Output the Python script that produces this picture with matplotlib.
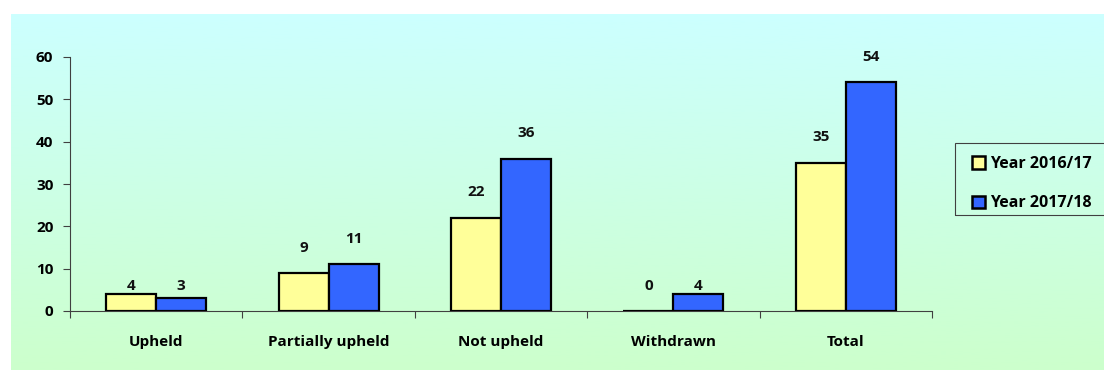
import numpy as np
import matplotlib
matplotlib.use("Agg")
import matplotlib.pyplot as plt
from matplotlib.patches import Patch, Rectangle
from matplotlib.colors import LinearSegmentedColormap

categories = ["Upheld", "Partially upheld", "Not upheld", "Withdrawn", "Total"]
year_2016_17 = [4, 9, 22, 0, 35]
year_2017_18 = [3, 11, 36, 4, 54]
series_names = ["Year 2016/17", "Year 2017/18"]
y_ticks = [0, 10, 20, 30, 40, 50, 60]

plt.rcParams["font.family"] = ["Open Sans", "DejaVu Sans"]
plt.rcParams["font.weight"] = "bold"

W, H = 1104, 370
fig = plt.figure(figsize=(W / 100, H / 100), dpi=100)
fig.patch.set_facecolor("white")

# gradient backdrop, cyan at the top fading to pale green
bg = fig.add_axes([11 / W, 0, 1 - 11 / W, (H - 14) / H])
bg.set_axis_off()
cmap = LinearSegmentedColormap.from_list("bg", ["#CCFFFF", "#CCFFCC"])
bg.imshow(np.linspace(0, 1, 256).reshape(-1, 1), aspect="auto", cmap=cmap,
          extent=[0, 1, 0, 1])
bg.set_zorder(0)

ax = fig.add_axes([70 / W, (H - 311) / H, (932 - 70) / W, (311 - 57) / H])
ax.set_zorder(1)
ax.patch.set_alpha(0)

FS = 11
x = np.arange(len(categories))
bw = 0.29
colors = ["#FFFF99", "#3366FF"]
for i, (vals, col) in enumerate(zip([year_2016_17, year_2017_18], colors)):
    pos = x + (i - 0.5) * bw
    ax.bar(pos, vals, width=bw, color=col, edgecolor="black", linewidth=1.6,
           zorder=3)
    for p, v in zip(pos, vals):
        ly = v + 6 if v > 5 else 6
        ax.text(p, ly, f"{v}", ha="center", va="center", fontsize=FS,
                fontweight="bold", color="#111111")

ax.set_xlim(-0.5, len(categories) - 0.5)
ax.set_ylim(0, 60)
ax.set_yticks(y_ticks)
ax.tick_params(axis="y", length=5, width=0.8, color="#404040", pad=7,
               labelsize=FS)
ax.set_xticks(x)
ax.set_xticklabels(categories, fontsize=FS, fontweight="bold")
ax.tick_params(axis="x", length=0, pad=17)
ax.set_xticks(np.arange(len(categories) + 1) - 0.5, minor=True)
ax.tick_params(axis="x", which="minor", length=5, width=0.8, color="#404040")
for lab in ax.get_yticklabels():
    lab.set_fontweight("bold")
for s in ["top", "right"]:
    ax.spines[s].set_visible(False)
for s in ["left", "bottom"]:
    ax.spines[s].set_color("#404040")
    ax.spines[s].set_linewidth(0.8)

# legend box running off the right edge of the figure
fig.add_artist(Rectangle((955 / W, (H - 215) / H), (W + 10 - 955) / W, 72 / H,
                         transform=fig.transFigure, facecolor="none",
                         edgecolor="#404040", linewidth=0.8, zorder=2))
handles = [Patch(facecolor=c, edgecolor="black", linewidth=1.8) for c in colors]
leg = fig.legend(handles, series_names, loc="upper left",
                 bbox_to_anchor=(972 / W, (H - 156) / H),
                 frameon=False, fontsize=11.5,
                 handlelength=0.8, handleheight=0.8, handletextpad=0.3,
                 labelspacing=1.45, borderpad=0, borderaxespad=0)
for t in leg.get_texts():
    t.set_fontweight("bold")

fig.savefig("out.png", dpi=100)
